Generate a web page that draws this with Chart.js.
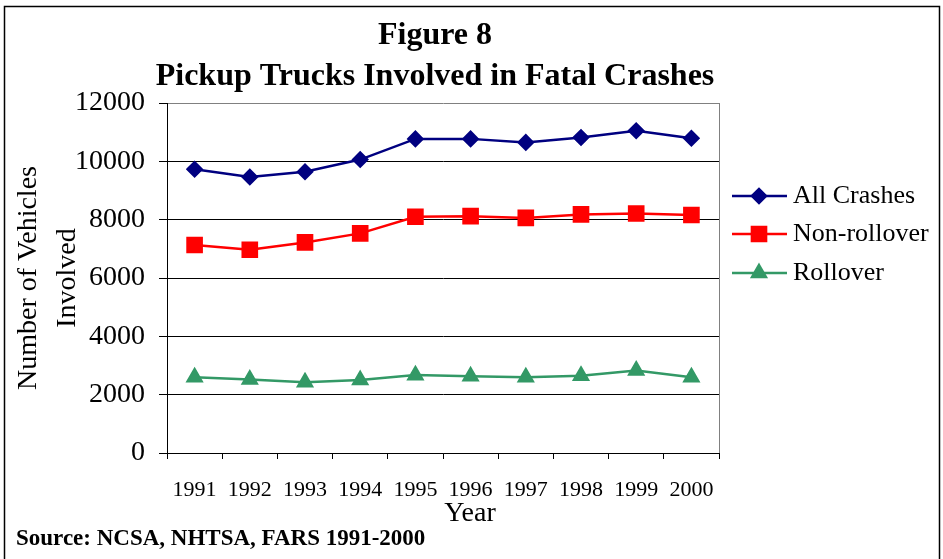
<!DOCTYPE html>
<html>
<head>
<meta charset="utf-8">
<script src="https://cdn.jsdelivr.net/npm/chart.js@4.4.1/dist/chart.umd.min.js"></script>
<style>
  html, body { margin: 0; padding: 0; background: #fff; overflow: hidden; }
  canvas { display: block; }
</style>
</head>
<body>
<canvas id="fig8" width="943" height="559"></canvas>
<script>
const years = ["1991", "1992", "1993", "1994", "1995", "1996", "1997", "1998", "1999", "2000"];
const allCrashes = [9730, 9460, 9640, 10060, 10770, 10770, 10650, 10820, 11050, 10790];
const nonRollover = [7130, 6970, 7220, 7530, 8100, 8120, 8060, 8180, 8210, 8160];
const rollover = [2600, 2520, 2430, 2500, 2670, 2630, 2600, 2650, 2830, 2600];
const seriesNames = ["All Crashes", "Non-rollover", "Rollover"];

const serif = "'Liberation Serif', 'Times New Roman', serif";

// frame, titles, "Year", source line and the legend on the right
const extras = {
  id: "extras",
  beforeDraw(chart) {
    const c = chart.ctx;
    c.save();
    c.fillStyle = "#fff";
    c.fillRect(0, 0, chart.width, chart.height);
    c.restore();
  },
  afterDatasetsDraw(chart) {
    const c = chart.ctx;
    const area = chart.chartArea;
    c.save();
    // grey right edge of plot
    c.strokeStyle = "#808080";
    c.lineWidth = 1;
    c.beginPath();
    c.moveTo(Math.round(area.right) + 0.5, area.top);
    c.lineTo(Math.round(area.right) + 0.5, area.bottom);
    c.stroke();
    c.restore();
  },
  afterDraw(chart) {
    const c = chart.ctx;
    c.save();
    // outer frame
    c.strokeStyle = "#000";
    c.lineWidth = 1.5;
    c.beginPath();
    c.moveTo(4.5, 570);
    c.lineTo(4.5, 6.5);
    c.lineTo(939.5, 6.5);
    c.lineTo(939.5, 570);
    c.stroke();

    c.fillStyle = "#000";
    c.textBaseline = "middle";
    c.textAlign = "center";
    c.font = "bold 32px " + serif;
    c.fillText("Figure 8", 435, 36);
    c.fillText("Pickup Trucks Involved in Fatal Crashes", 435, 77);

    c.font = "28px " + serif;
    c.fillText("Year", 470, 514);

    c.textAlign = "left";
    c.font = "bold 23px " + serif;
    c.fillText("Source: NCSA, NHTSA, FARS 1991-2000", 16, 539);

    // legend
    const rows = [196, 234, 273];
    chart.data.datasets.forEach((ds, i) => {
      const y = rows[i];
      c.strokeStyle = ds.borderColor;
      c.lineWidth = ds.borderWidth;
      c.beginPath();
      c.moveTo(732, y);
      c.lineTo(787, y);
      c.stroke();
      c.fillStyle = ds.pointBackgroundColor;
      c.strokeStyle = ds.pointBorderColor;
      Chart.helpers.drawPoint(c, {
        pointStyle: ds.pointStyle,
        radius: ds.pointRadius,
        borderWidth: 1,
        rotation: 0
      }, 759, y);
      c.fillStyle = "#000";
      c.font = "26px " + serif;
      c.textAlign = "left";
      c.fillText(ds.label, 793, y);
    });
    c.restore();
  }
};

const ctx = document.getElementById("fig8");

new Chart(ctx, {
  type: "line",
  data: {
    labels: years,
    datasets: [
      {
        label: seriesNames[0],
        data: allCrashes,
        borderColor: "#000080",
        backgroundColor: "#000080",
        pointBackgroundColor: "#000080",
        pointBorderColor: "#000080",
        borderWidth: 2.5,
        pointStyle: "rectRot",
        pointRadius: 7,
        tension: 0
      },
      {
        label: seriesNames[1],
        data: nonRollover,
        borderColor: "#FF0000",
        backgroundColor: "#FF0000",
        pointBackgroundColor: "#FF0000",
        pointBorderColor: "#FF0000",
        borderWidth: 2.5,
        pointStyle: "rect",
        pointRadius: 10,
        tension: 0
      },
      {
        label: seriesNames[2],
        data: rollover,
        borderColor: "#339966",
        backgroundColor: "#339966",
        pointBackgroundColor: "#339966",
        pointBorderColor: "#339966",
        borderWidth: 2.5,
        pointStyle: "triangle",
        pointRadius: 8,
        tension: 0
      }
    ]
  },
  options: {
    responsive: false,
    animation: false,
    devicePixelRatio: 1,
    layout: {
      padding: { left: 0, top: 103, right: 224, bottom: 0 }
    },
    plugins: {
      legend: { display: false },
      title: { display: false },
      tooltip: { enabled: false }
    },
    scales: {
      x: {
        offset: true,
        grid: {
          offset: true,
          drawOnChartArea: false,
          tickLength: 6,
          tickColor: "#000",
          lineWidth: 1
        },
        border: { color: "#000", width: 1 },
        ticks: {
          color: "#000",
          font: { family: serif, size: 22 },
          padding: 18,
          maxRotation: 0,
          autoSkip: false
        },
        afterFit(scale) {
          scale.height = 106;
        }
      },
      y: {
        min: 0,
        max: 12000,
        grid: {
          color: (c) => (c.tick && c.tick.value === 12000 ? "#808080" : "#000"),
          tickColor: "#000",
          tickLength: 8,
          lineWidth: 1
        },
        border: { color: "#000", width: 1 },
        ticks: {
          stepSize: 2000,
          color: "#000",
          font: { family: serif, size: 28 },
          padding: 14,
          callback: (v) => String(v)
        },
        title: {
          display: true,
          text: ["Number of Vehicles", "Involved"],
          color: "#000",
          font: { family: serif, size: 28, lineHeight: 1.4 },
          padding: { top: 9, bottom: 0 }
        },
        afterFit(scale) {
          scale.width = 167;
        }
      }
    }
  },
  plugins: [extras]
});
</script>
</body>
</html>
